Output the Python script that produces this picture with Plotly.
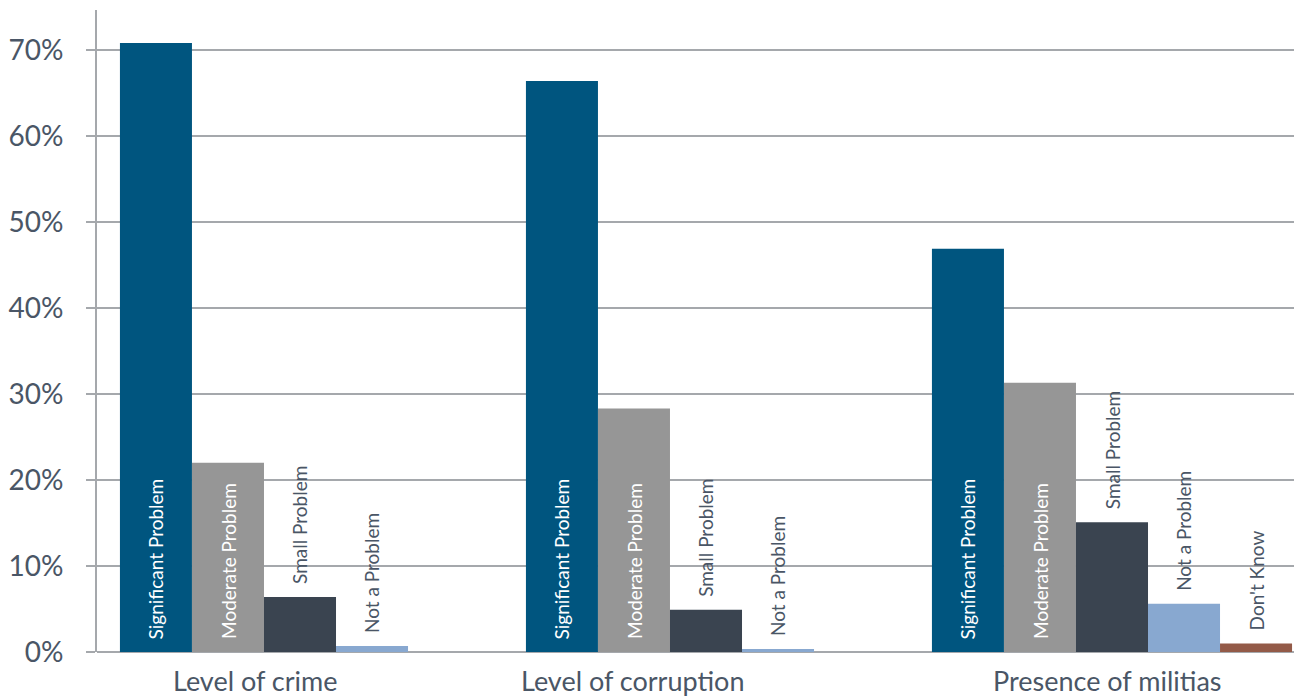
import plotly.graph_objects as go

categories = ["Level of crime", "Level of corruption", "Presence of militias"]
series = ["Significant Problem", "Moderate Problem", "Small Problem", "Not a Problem", "Don't Know"]
significant = [70.8, 66.4, 46.9]
moderate = [22.0, 28.3, 31.3]
small = [6.4, 4.9, 15.1]
not_problem = [0.7, 0.35, 5.6]
dont_know = [None, None, 1.0]
values = [significant, moderate, small, not_problem, dont_know]
colors = ["#00557f", "#969696", "#3a4450", "#88a8d0", "#935a48"]
inside = [True, True, False, False, False]
tick_vals = [0, 10, 20, 30, 40, 50, 60, 70]
tick_text = ["0%", "10%", "20%", "30%", "40%", "50%", "60%", "70%"]
cat_label_x = [-0.111, 0.820, 1.990]

BARGAP = 0.113
TEXT = "#4a5666"
GRID = "#a5a8ac"
FONT = "Lato"

fig = go.Figure()
x_idx = list(range(len(categories)))
for name, vals, col in zip(series, values, colors):
    fig.add_trace(go.Bar(x=x_idx, y=vals, name=name, marker=dict(color=col, line=dict(width=0)),
                         hoverinfo="skip"))

annotations = []
n = len(series)
w = (1 - BARGAP) / n
for i, (name, vals, ins) in enumerate(zip(series, values, inside)):
    off = -(1 - BARGAP) / 2 + (i + 0.5) * w
    for c, v in enumerate(vals):
        if v is None:
            continue
        annotations.append(dict(
            x=c + off, y=0 if ins else v, xref="x", yref="y",
            text=name, textangle=-90, showarrow=False,
            xanchor="center", yanchor="bottom", yshift=11,
            font=dict(family=FONT, size=19, color="#ffffff" if ins else TEXT),
        ))

for lab, xv in zip(categories, cat_label_x):
    annotations.append(dict(
        x=xv, y=0, xref="x", yref="y", text=lab, showarrow=False,
        xanchor="center", yanchor="top", yshift=-10,
        font=dict(family=FONT, size=27, color=TEXT),
    ))

fig.update_layout(
    width=1294, height=690,
    margin=dict(l=89, r=0, t=2, b=46),
    barmode="group", bargap=BARGAP, bargroupgap=0,
    plot_bgcolor="#ffffff", paper_bgcolor="#ffffff",
    showlegend=False,
    annotations=annotations,
    xaxis=dict(range=[-0.5, 2.468], showticklabels=False, showgrid=False, zeroline=False,
               showline=False, ticks=""),
    yaxis=dict(range=[0, 74.65], tickvals=tick_vals, ticktext=tick_text,
               showgrid=True, gridcolor=GRID, gridwidth=2,
               showline=True, linecolor=GRID, linewidth=2,
               ticks="outside", ticklen=9, tickwidth=2, tickcolor=GRID,
               ticklabelstandoff=17,
               zeroline=True, zerolinecolor=GRID, zerolinewidth=2,
               tickfont=dict(family=FONT, size=28, color=TEXT)),
)

fig.write_html("out.html")
